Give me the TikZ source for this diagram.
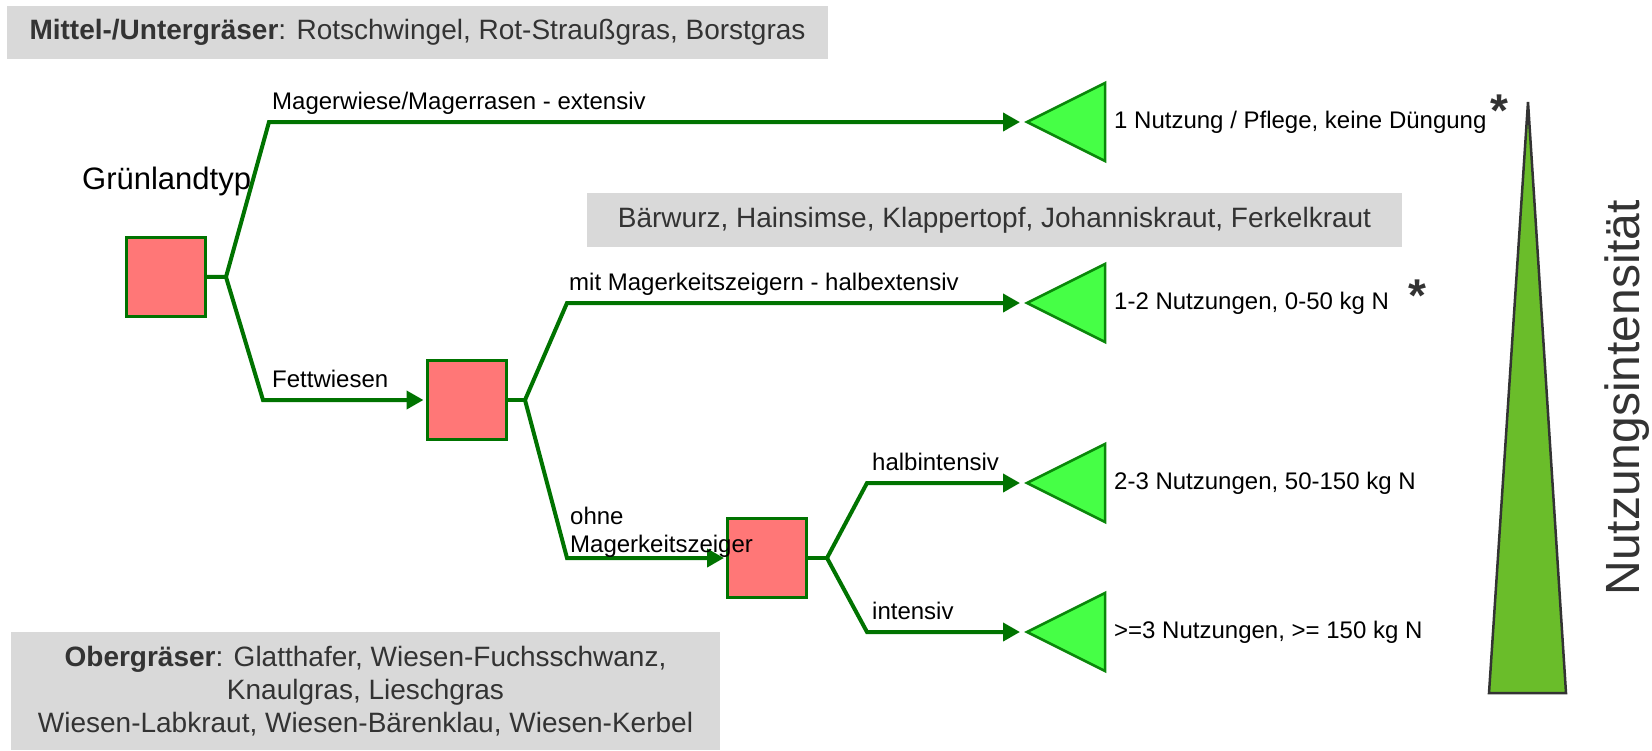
\documentclass[tikz,border=0pt]{standalone}
\usepackage{fontspec}
\setmainfont{Liberation Sans}
\usetikzlibrary{positioning,shapes.geometric,arrows.meta}
\definecolor{linegreen}{RGB}{0,115,0}
\definecolor{boxred}{RGB}{255,119,119}
\definecolor{trigreen}{RGB}{10,135,10}
\definecolor{trifill}{RGB}{70,255,70}
\definecolor{bigfill}{RGB}{106,189,42}
\definecolor{boxgray}{RGB}{217,217,217}
\definecolor{darktext}{RGB}{51,51,51}

\begin{document}
\begin{tikzpicture}[x=1pt,y=-1pt,
    box/.style={draw=linegreen, fill=boxred, line width=3pt, minimum size=79pt, inner sep=0pt},
    tri/.style={isosceles triangle, isosceles triangle stretches, shape border rotate=180,
        minimum width=78pt, minimum height=78pt, inner sep=0pt, outer sep=0pt,
        draw=trigreen, fill=trifill, line width=2.5pt},
    graybox/.style={fill=boxgray, text=darktext, font=\fontsize{28}{33}\selectfont, inner sep=0pt},
    lbl/.style={font=\fontsize{24}{28}\selectfont, inner sep=0pt, anchor=base west},
    info/.style={font=\fontsize{24}{28}\selectfont, inner sep=0pt},
    star/.style={font=\bfseries\fontsize{46}{46}\selectfont, text=darktext, inner sep=0pt, anchor=base},
    link/.style={draw=linegreen, line width=4pt},
    arr/.style={link, -{Triangle[length=17pt,width=18pt]}}]
    \useasboundingbox (0,0) rectangle (1652,750);

    \node[graybox, minimum width=821pt, minimum height=53pt] (G1) at (417.5,32.5)
        {\textbf{Mittel-/Untergräser}: Rotschwingel, Rot-Straußgras, Borstgras};
    \node[graybox, minimum width=815pt, minimum height=54pt] (G2) at (994.5,220)
        {Bärwurz, Hainsimse, Klappertopf, Johanniskraut, Ferkelkraut};
    \node[graybox, minimum width=709pt, minimum height=118pt, align=center] (G3) at (365.5,691)
        {\textbf{Obergräser}: Glatthafer, Wiesen-Fuchsschwanz,\\Knaulgras, Lieschgras\\Wiesen-Labkraut, Wiesen-Bärenklau, Wiesen-Kerbel};

    \node[box] (B1) at (166,276.5) {};
    \node[box] (B2) at (466.5,400) {};
    \node[box] (B3) at (767,558) {};
    \coordinate (F1) at (226,277);
    \coordinate (F2) at (525,400);
    \coordinate (F3) at (827,558);
    \coordinate (K1) at (269,122);
    \coordinate (K2) at (263,400);
    \coordinate (K3) at (567,303);
    \coordinate (K4) at (567,558);
    \coordinate (K5) at (867,483);
    \coordinate (K6) at (867,632);
    \foreach \n/\y in {1/122,2/303,3/483,4/632}
        \node[tri, anchor=apex] (T\n) at (1027,\y) {};

    \draw[link] (B1) -- (F1);
    \draw[link] (B2) -- (F2);
    \draw[link] (B3) -- (F3);
    \draw[arr, shorten >=7pt] (F1) -- (K1) -- (T1.apex);
    \draw[arr, shorten >=2pt] (F1) -- (K2) -- (B2);
    \draw[arr, shorten >=7pt] (F2) -- (K3) -- (T2.apex);
    \draw[arr, shorten >=2pt] (F2) -- (K4) -- (B3);
    \draw[arr, shorten >=7pt] (F3) -- (K5) -- (T3.apex);
    \draw[arr, shorten >=7pt] (F3) -- (K6) -- (T4.apex);

    \node[font=\fontsize{31}{36}\selectfont, anchor=base west, inner sep=0pt] (GT) at (82,189) {Grünlandtyp};
    \node[lbl] (L1) at ([shift={(3pt,13pt)}]K1) {Magerwiese/Magerrasen - extensiv};
    \node[lbl] (L2) at ([shift={(9pt,13pt)}]K2) {Fettwiesen};
    \node[lbl] (L3) at ([shift={(2pt,13pt)}]K3) {mit Magerkeitszeigern - halbextensiv};
    \node[lbl, anchor=south west, align=left] (L4) at ([shift={(3pt,0pt)}]K4) {ohne\\Magerkeitszeiger};
    \node[lbl] (L5) at ([shift={(5pt,13pt)}]K5) {halbintensiv};
    \node[lbl] (L6) at ([shift={(5pt,13pt)}]K6) {intensiv};

    \node[info, right=9pt of T1] (N1) {1 Nutzung / Pflege, keine Düngung};
    \node[info, right=9pt of T2] (N2) {1-2 Nutzungen, 0-50 kg N};
    \node[info, right=9pt of T3] (N3) {2-3 Nutzungen, 50-150 kg N};
    \node[info, right=9pt of T4] (N4) {>=3 Nutzungen, >= 150 kg N};
    \node[star] (S1) at (1499,126) {*};
    \node[star] (S2) at (1417,311) {*};

    \filldraw[draw=darktext, fill=bigfill, line width=2.5pt] (1528,102) -- (1566,693) -- (1489,693) -- cycle;
    \node[font=\fontsize{48}{48}\selectfont, text=darktext, rotate=90, anchor=base, inner sep=0pt] (NI) at (1639,398) {Nutzungsintensität};
\end{tikzpicture}
\end{document}
